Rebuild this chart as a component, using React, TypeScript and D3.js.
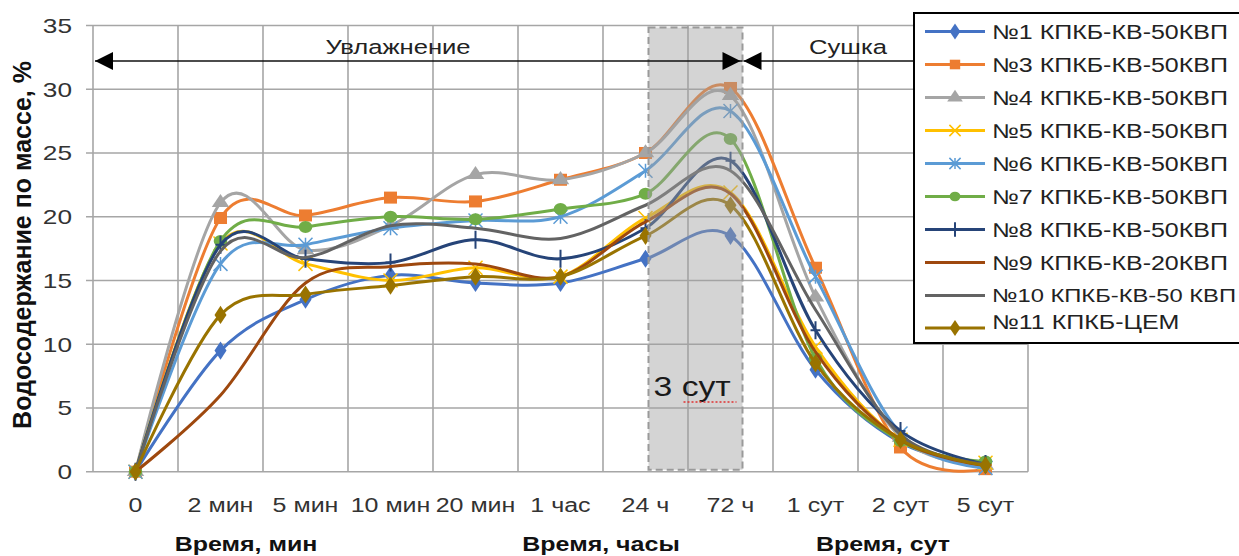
import React from 'react';
import * as d3 from 'd3';

const categories = ['0', '2 мин', '5 мин', '10 мин', '20 мин', '1 час', '24 ч', '72 ч', '1 сут', '2 сут', '5 сут'];
const yTicks = [0, 5, 10, 15, 20, 25, 30, 35];

const s1 = [0, 9.5, 13.5, 15.4, 14.8, 14.8, 16.7, 18.5, 8.0, 2.3, 0.5];
const s3 = [0, 19.9, 20.1, 21.5, 21.2, 22.9, 25.0, 30.1, 16.0, 1.9, 0.2];
const s4 = [0, 21.1, 17.4, 19.3, 23.3, 22.9, 25.0, 29.5, 13.7, 2.7, 0.5];
const s5 = [0, 17.9, 16.3, 15.0, 16.0, 15.3, 19.9, 21.9, 9.8, 2.5, 0.7];
const s6 = [0, 16.3, 17.8, 19.1, 19.7, 20.0, 23.6, 28.3, 15.3, 3.0, 0.3];
const s7 = [0, 18.1, 19.2, 20.0, 19.8, 20.6, 21.8, 26.1, 8.9, 2.4, 0.8];
const s8 = [0, 17.8, 16.7, 16.4, 18.2, 16.7, 19.1, 24.4, 11.1, 3.2, 0.6];
const s9 = [0, 6.0, 14.8, 16.1, 16.3, 15.3, 19.6, 21.8, 9.4, 2.5, 0.5];
const s10 = [0, 17.3, 16.8, 19.3, 19.1, 18.3, 20.9, 23.6, 12.7, 2.9, 0.6];
const s11 = [0, 12.3, 13.9, 14.6, 15.3, 15.3, 18.5, 20.9, 8.5, 2.5, 0.5];

const seriesNames = [
  '№1 КПКБ-КВ-50КВП', '№3 КПКБ-КВ-50КВП', '№4 КПКБ-КВ-50КВП', '№5 КПКБ-КВ-50КВП',
  '№6 КПКБ-КВ-50КВП', '№7 КПКБ-КВ-50КВП', '№8 КПКБ-КВ-50КВП', '№9 КПКБ-КВ-20КВП',
  '№10 КПКБ-КВ-50 КВП', '№11 КПКБ-ЦЕМ',
];
const seriesValues = [s1, s3, s4, s5, s6, s7, s8, s9, s10, s11];
const seriesColors = ['#4472C4', '#ED7D31', '#A5A5A5', '#FFC000', '#5B9BD5', '#70AD47', '#264478', '#9E480E', '#636363', '#997300'];
const seriesMarkers = ['diamond', 'square', 'triangle', 'x', 'star', 'circle', 'plus', 'none', 'none', 'diamond'];

const W = 1239, H = 556;
const FONT = 'Liberation Sans, Arial, sans-serif';
const SX = 1.25; // the source picture is stretched horizontally

function T({ x, y, size, anchor = 'start', bold = false, fill = '#333', rotate = 0, sx = SX, children }:
  { x: number; y: number; size: number; anchor?: string; bold?: boolean; fill?: string; rotate?: number; sx?: number; children: React.ReactNode }) {
  return (
    <g transform={`translate(${x},${y}) scale(${sx},1)${rotate ? ` rotate(${rotate})` : ''}`}>
      <text dy="0.35em" textAnchor={anchor} fontSize={size} fontWeight={bold ? 'bold' : 'normal'} fill={fill}>{children}</text>
    </g>
  );
}

function Marker({ type, x, y, color, s = 1 }: { type: string; x: number; y: number; color: string; s?: number }) {
  const t = `translate(${x},${y}) scale(1.15,1)`;
  if (type === 'diamond') return <path transform={t} d={d3.symbol(d3.symbolDiamond, 95 * s)()!} fill={color} />;
  if (type === 'square') return <rect x={x - 6.5 * s} y={y - 6 * s} width={13 * s} height={12 * s} fill={color} />;
  if (type === 'triangle') return <path transform={t} d={d3.symbol(d3.symbolTriangle, 100 * s)()!} fill={color} />;
  if (type === 'circle') return <ellipse cx={x} cy={y} rx={6.8 * s} ry={6 * s} fill={color} />;
  if (type === 'x') {
    const r = 7 * s;
    return <path d={`M${x - r},${y - r}L${x + r},${y + r}M${x - r},${y + r}L${x + r},${y - r}`} stroke={color} strokeWidth={1.5} />;
  }
  if (type === 'star') {
    const r = 7 * s;
    return <path d={`M${x - r},${y - r}L${x + r},${y + r}M${x - r},${y + r}L${x + r},${y - r}M${x},${y - r}L${x},${y + r}`} stroke={color} strokeWidth={1.5} />;
  }
  if (type === 'plus') {
    return <path d={`M${x},${y - 9 * s}L${x},${y + 9 * s}M${x - 5 * s},${y}L${x + 5 * s},${y}`} stroke={color} strokeWidth={2} />;
  }
  return null;
}

export default function App() {
  const x = d3.scaleBand<string>().domain(categories).range([93, 1028]);
  const y = d3.scaleLinear().domain([0, 35]).range([471.7, 25.5]);
  const cx = (c: string) => (x(c) ?? 0) + x.bandwidth() / 2;

  const line = d3.line<number>()
    .x((_, i) => cx(categories[i]))
    .y(d => y(d))
    .curve(d3.curveCardinal.tension(0));

  const bounds = categories.map(c => x(c) ?? 0).concat([1028]);
  const shadeX0 = cx('24 ч') + 3, shadeX1 = cx('72 ч') + 12;
  const arrowY = 61;

  return (
    <svg width={W} height={H} style={{ position: 'absolute', left: 0, top: 0, background: '#fff' }} fontFamily={FONT}>
      {/* grid */}
      {yTicks.map(t => (
        <line key={'h' + t} x1={86} x2={1028} y1={y(t)} y2={y(t)} stroke="#a6a6a6" strokeWidth={1.6} />
      ))}
      {bounds.map((b, i) => (
        <line key={'v' + i} x1={b} x2={b} y1={y(35)} y2={y(0)} stroke="#a6a6a6" strokeWidth={1.6} />
      ))}
      {yTicks.map(t => (
        <T key={'yt' + t} x={72} y={y(t)} size={21} anchor="end">{t}</T>
      ))}
      {categories.map(c => (
        <T key={'xt' + c} x={cx(c)} y={505} size={20} anchor="middle">{c}</T>
      ))}

      {/* series */}
      {seriesValues.map((vals, si) => (
        <g key={'s' + si}>
          <path d={line(vals)!} fill="none" stroke={seriesColors[si]} strokeWidth={3} />
          {vals.map((v, i) => (
            <Marker key={i} type={seriesMarkers[si]} x={cx(categories[i])} y={y(v)} color={seriesColors[si]} />
          ))}
        </g>
      ))}

      {/* 3-day shaded box */}
      <rect x={shadeX0} y={y(35) + 2} width={shadeX1 - shadeX0} height={y(0) - y(35) - 4}
        fill="#a0a0a0" fillOpacity={0.45} stroke="#9a9a9a" strokeWidth={2} strokeDasharray="7 4" />
      <T x={shadeX0 + 5} y={387} size={27} fill="#1a1a1a">3 сут</T>
      <line x1={shadeX0 + 35} x2={shadeX1 - 6} y1={402} y2={402} stroke="#e03030" strokeWidth={1.5} strokeDasharray="2 2" />

      {/* phase arrows */}
      <line x1={95} x2={shadeX1} y1={arrowY} y2={arrowY} stroke="#111" strokeWidth={1.5} />
      <path d={`M95,${arrowY}L113,${arrowY - 9}L113,${arrowY + 9}Z`} fill="#000" />
      <path d={`M${shadeX1 - 2},${arrowY}L${shadeX1 - 20},${arrowY - 9}L${shadeX1 - 20},${arrowY + 9}Z`} fill="#000" />
      <line x1={shadeX1 + 1} x2={914} y1={arrowY} y2={arrowY} stroke="#111" strokeWidth={1.5} />
      <path d={`M${shadeX1 + 1},${arrowY}L${shadeX1 + 19},${arrowY - 9}L${shadeX1 + 19},${arrowY + 9}Z`} fill="#000" />
      <T x={398} y={47} size={20.5} anchor="middle" fill="#222">Увлажнение</T>
      <T x={848} y={47} size={20.5} anchor="middle" fill="#222">Сушка</T>

      {/* axis titles */}
      <T x={22} y={245} size={25} bold anchor="middle" fill="#111" rotate={-90} sx={1}>Водосодержание по массе, %</T>
      <T x={246} y={544} size={20} bold anchor="middle" fill="#111">Время, мин</T>
      <T x={601} y={544} size={20} bold anchor="middle" fill="#111">Время, часы</T>
      <T x={883} y={544} size={20} bold anchor="middle" fill="#111">Время, сут</T>

      {/* legend */}
      <rect x={914} y={13} width={340} height={330} fill="#fff" stroke="#000" strokeWidth={2} />
      {seriesNames.map((n, i) => {
        const rowY = i < 9 ? 31.5 + i * 33 : 322;
        const lineY = i < 9 ? rowY : 328;
        return (
          <g key={'l' + i}>
            <line x1={925} x2={985} y1={lineY} y2={lineY} stroke={seriesColors[i]} strokeWidth={3} />
            <Marker type={seriesMarkers[i]} x={955} y={lineY} color={seriesColors[i]} s={0.8} />
            <T x={992} y={rowY} size={i === 8 ? 19 : 20} fill="#222">{n}</T>
          </g>
        );
      })}
    </svg>
  );
}
